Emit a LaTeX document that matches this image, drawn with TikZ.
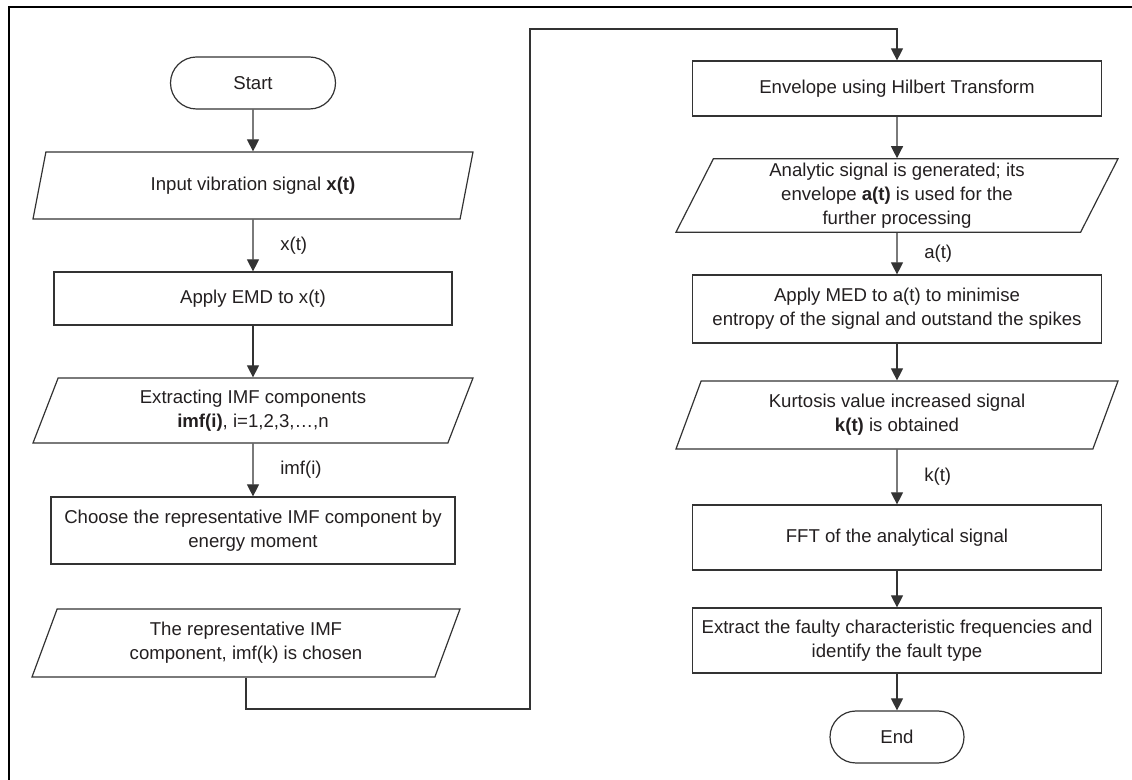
\documentclass[tikz,border=0pt]{standalone}
\usepackage{fontspec}
\setmainfont{Liberation Sans}
\usetikzlibrary{shapes.geometric,arrows.meta}

\definecolor{linegray}{HTML}{333333}
\definecolor{textgray}{HTML}{231F20}

\tikzset{
    base/.style={draw=linegray, line width=0.6pt, text=textgray,
        font=\fontsize{9.3pt}{12pt}\selectfont, align=center, inner sep=2pt},
    term/.style={base, rounded corners=13pt, minimum height=26pt},
    proc/.style={base, rectangle},
    io/.style={base, trapezium, trapezium left angle=63,
        trapezium right angle=117, trapezium stretches body},
    flow/.style={draw=linegray, line width=0.6pt,
        -{Triangle[length=6pt,width=6pt]}},
    lbl/.style={right, xshift=10pt, text=textgray,
        font=\fontsize{9.3pt}{12pt}\selectfont}
}

\begin{document}
\begin{tikzpicture}[x=0.5pt, y=-0.5pt]

    \useasboundingbox (0,0) rectangle (1132,780);

    % frame (cut at right and bottom)
    \draw[line width=1pt, black] (1132,7) -- (9,7) -- (9,780);

    % Left column
    \node[term, minimum width=82.5pt] (start) at (253,83) {Start};
    \node[io, minimum width=220pt, minimum height=33.5pt] (input) at (253,185.5)
        {Input vibration signal \textbf{x(t)}};
    \node[proc, minimum width=199pt, minimum height=26.5pt] (emd) at (253,298.5)
        {Apply EMD to x(t)};
    \node[io, minimum width=220pt, minimum height=32.5pt] (imf) at (253,410.5)
        {Extracting IMF components\\ \textbf{imf(i)}, i=1,2,3,\dots,n};
    \node[proc, minimum width=202pt, minimum height=33.5pt] (choose) at (253,530.5)
        {Choose the representative IMF component by\\ energy moment};
    \node[io, minimum width=214pt, minimum height=34pt] (rep) at (246,643)
        {The representative IMF\\ component, imf(k) is chosen};

    % Right column
    \node[proc, minimum width=204.5pt, minimum height=27.5pt] (env) at (897,88.5)
        {Envelope using Hilbert Transform};
    \node[io, minimum width=221pt, minimum height=32.5pt] (anl) at (897,195.5)
        {Analytic signal is generated; its\\ envelope \textbf{a(t)} is used for the\\ further processing};
    \node[proc, minimum width=204.5pt, minimum height=34pt] (med) at (897,309)
        {Apply MED to a(t) to minimise\\ entropy of the signal and outstand the spikes};
    \node[io, minimum width=221pt, minimum height=34pt] (kurt) at (897,415)
        {Kurtosis value increased signal\\ \textbf{k(t)} is obtained};
    \node[proc, minimum width=204.5pt, minimum height=32.5pt] (fft) at (897,537.5)
        {FFT of the analytical signal};
    \node[proc, minimum width=204.5pt, minimum height=32.5pt] (ext) at (897,640.5)
        {Extract the faulty characteristic frequencies and\\ identify the fault type};
    \node[term, minimum width=67pt] (end) at (897,737) {End};

    % connectors
    \draw[flow] (start) -- (input);
    \draw[flow] (input) -- node[lbl] {x(t)} (emd);
    \draw[flow] (emd) -- (imf);
    \draw[flow] (imf) -- node[lbl] {imf(i)} (choose);

    \coordinate (lowturn) at (530,709);
    \coordinate (topturn) at (530,29);
    \draw[flow] (rep.south) |- (lowturn) -- (topturn) -| (env.north);

    \draw[flow] (env) -- (anl);
    \draw[flow] (anl) -- node[lbl] {a(t)} (med);
    \draw[flow] (med) -- (kurt);
    \draw[flow] (kurt) -- node[lbl] {k(t)} (fft);
    \draw[flow] (fft) -- (ext);
    \draw[flow] (ext) -- (end);

\end{tikzpicture}
\end{document}
